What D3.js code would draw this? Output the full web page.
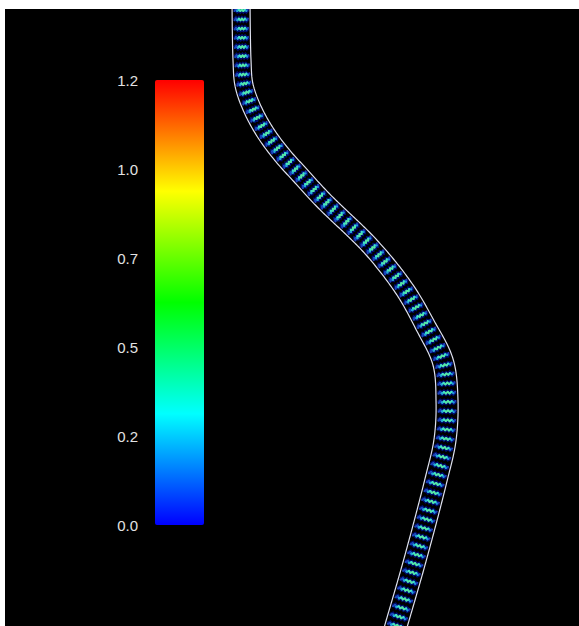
<!DOCTYPE html>
<html>
<head>
<meta charset="utf-8">
<script src="https://cdn.jsdelivr.net/npm/d3@7"></script>
<style>
  html, body { margin: 0; padding: 0; background: #fff; }
  svg { display: block; }
</style>
</head>
<body>
<div id="chart"></div>
<script>
// colour bar
const barMin = 0;
const barMax = 1.2;
const barTicks = [0, 0.24, 0.48, 0.72, 0.96, 1.2];

// channel centre line (data units) and local channel width
const lineX = [236, 237, 239, 247, 260, 277, 295, 318, 367, 400, 420, 438, 442, 440, 431, 410, 391, 387];
const lineY = [-12, 51, 76, 99, 123, 146, 166, 191, 239, 281, 316, 353, 391, 431, 471, 551, 617, 631];
const lineW = [18, 18, 18, 18, 18, 18, 18, 18, 18, 19, 20, 21, 22, 22, 22, 22, 22, 22];

// velocity profile across the channel (wall -> wall)
const profile = [0.03, 0.1, 0.3, 0.42, 0.45, 0.44, 0.4, 0.3, 0.12, 0.03];

const W = 579, H = 626;

const svg = d3.select('#chart').append('svg')
  .attr('width', W)
  .attr('height', H);

// black plotting area
svg.append('rect')
  .attr('x', 5).attr('y', 9)
  .attr('width', W - 5).attr('height', H - 9)
  .attr('fill', '#000');

const color = d3.scaleSequential(t => d3.hsl(240 * (1 - t), 1, 0.5).toString())
  .domain([barMin, barMax]);

// ---- colour bar ----
const barY = d3.scaleLinear().domain([barMin, barMax]).range([525, 80]);
const barX = 155, barW = 49;

const defs = svg.append('defs');
const grad = defs.append('linearGradient')
  .attr('id', 'bar-grad')
  .attr('x1', 0).attr('y1', 1).attr('x2', 0).attr('y2', 0);
d3.range(0, 1.0001, 0.05).forEach(t => {
  grad.append('stop')
    .attr('offset', t)
    .attr('stop-color', color(barMin + t * (barMax - barMin)));
});

svg.append('rect')
  .attr('x', barX).attr('y', barY(barMax))
  .attr('width', barW).attr('height', barY(barMin) - barY(barMax))
  .attr('rx', 2)
  .attr('fill', 'url(#bar-grad)');

const axis = svg.append('g')
  .attr('transform', `translate(${barX},0)`)
  .call(d3.axisLeft(barY).tickValues(barTicks).tickFormat(d3.format('.1f')).tickSize(0).tickPadding(17));
axis.select('.domain').remove();
axis.selectAll('text')
  .attr('fill', '#e2e2e2')
  .attr('font-family', 'Liberation Sans, Arial, sans-serif')
  .attr('font-size', 15)
  .attr('dy', '0.36em');

// ---- channel ----
const sx = d3.scaleLinear().domain([0, 574]).range([5, 579]);
const sy = d3.scaleLinear().domain([0, 617]).range([9, 626]);

const pts = lineX.map((x, i) => [sx(x), sy(lineY[i])]);

// smooth centre line, sampled densely
const guide = svg.append('path')
  .attr('d', d3.line().curve(d3.curveCatmullRom.alpha(0.5))(pts))
  .attr('fill', 'none').attr('stroke', 'none');
const node = guide.node();
const total = node.getTotalLength();

// cumulative length of each control point, to interpolate width
const cum = [0];
for (let i = 1; i < pts.length; i++) {
  cum.push(cum[i - 1] + Math.hypot(pts[i][0] - pts[i - 1][0], pts[i][1] - pts[i - 1][1]));
}
const widthAt = d3.scaleLinear()
  .domain(cum.map(c => c / cum[cum.length - 1] * total))
  .range(lineW);

function frameAt(s) {
  const a = node.getPointAtLength(Math.max(s - 1, 0));
  const b = node.getPointAtLength(Math.min(s + 1, total));
  const p = node.getPointAtLength(s);
  let tx = b.x - a.x, ty = b.y - a.y;
  const l = Math.hypot(tx, ty) || 1;
  tx /= l; ty /= l;
  return { x: p.x, y: p.y, tx, ty, nx: ty, ny: -tx, w: widthAt(s) };
}

const clip = defs.append('clipPath').attr('id', 'plot-clip');
clip.append('rect').attr('x', 5).attr('y', 9).attr('width', W - 5).attr('height', H - 9);

const soft = defs.append('filter').attr('id', 'soft')
  .attr('x', '-10%').attr('y', '-10%').attr('width', '120%').attr('height', '120%');
soft.append('feGaussianBlur').attr('stdDeviation', 0.6);

const chan = svg.append('g').attr('clip-path', 'url(#plot-clip)');

const rows = d3.range(4, total, 9.2).map(frameAt);

const glow = chan.append('g').attr('filter', 'url(#soft)');
const marks = chan.append('g').attr('filter', 'url(#soft)');

rows.forEach(r => {
  const n = profile.length;
  const cells = profile.map((v, j) => {
    const f = (j + 0.5) / n - 0.5;
    const off = f * (r.w - 3);
    const zig = (j % 2 === 0 ? -1 : 1) * 0.8;
    return {
      x: r.x - r.nx * off + r.tx * zig,
      y: r.y - r.ny * off + r.ty * zig,
      v
    };
  });
  // dark blue underlay
  glow.append('path')
    .attr('d', d3.line().x(d => d.x).y(d => d.y)(cells))
    .attr('stroke', '#0612a0')
    .attr('stroke-width', 4.5)
    .attr('stroke-opacity', 0.7)
    .attr('fill', 'none');
  for (let j = 0; j < cells.length - 1; j++) {
    const v = (cells[j].v + cells[j + 1].v) / 2;
    const c = d3.hsl(color(v));
    c.l = 0.38 + v * 0.55;
    c.s = 0.75;
    marks.append('line')
      .attr('x1', cells[j].x).attr('y1', cells[j].y)
      .attr('x2', cells[j + 1].x).attr('y2', cells[j + 1].y)
      .attr('stroke', c.toString())
      .attr('stroke-width', 2)
      .attr('stroke-linecap', 'round');
  }
});

// walls
const samples = d3.range(0, total + 0.5, 2).map(frameAt);
[-1, 1].forEach(side => {
  chan.append('path')
    .attr('d', d3.line()
      .x(p => p.x + side * p.nx * p.w / 2)
      .y(p => p.y + side * p.ny * p.w / 2)(samples))
    .attr('fill', 'none')
    .attr('stroke', '#dfe2f0')
    .attr('stroke-width', 1.2);
});
</script>
</body>
</html>
